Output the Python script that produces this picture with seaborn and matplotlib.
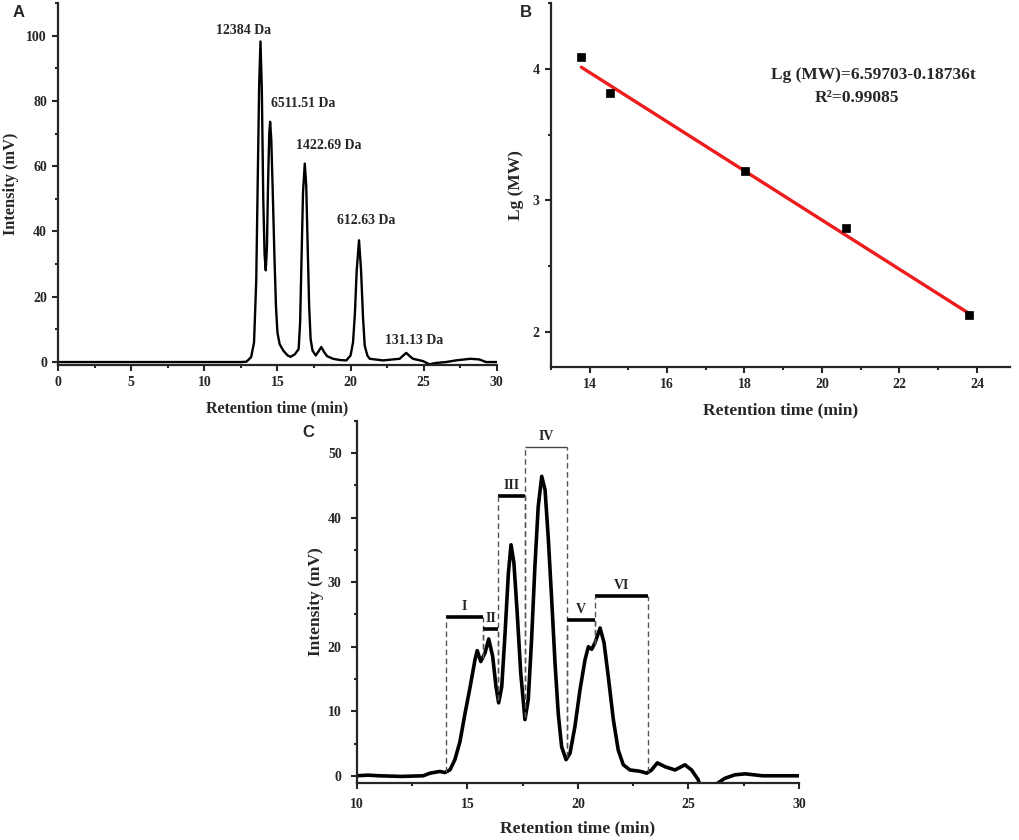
import numpy as np
import pandas as pd
import seaborn as sns
import matplotlib.pyplot as plt
from matplotlib.ticker import MultipleLocator, AutoMinorLocator

sns.set_style("ticks")
plt.rcParams['font.family'] = ['Liberation Serif', 'DejaVu Serif']
plt.rcParams['font.weight'] = 'bold'
plt.rcParams['axes.labelweight'] = 'bold'

# ---- Panel A: chromatogram of standards ----
a_time = [0, 5, 10, 12.5, 12.88, 13.2, 13.4, 13.55, 13.65, 13.75, 13.84, 13.93, 14.03, 14.12,
          14.2, 14.28, 14.36, 14.44, 14.5, 14.58, 14.68, 14.79, 14.9, 15.0, 15.15, 15.4,
          15.7, 15.9, 16.2, 16.45, 16.55, 16.65, 16.75, 16.87, 16.97, 17.07, 17.17, 17.27,
          17.4, 17.62, 17.8, 18.0, 18.2, 18.4, 18.8, 19.3, 19.71, 20.0, 20.17, 20.3,
          20.42, 20.58, 20.72, 20.85, 20.97, 21.15, 21.31, 22.22, 23.36, 23.6, 23.81, 24.05,
          24.27, 24.95, 25.4, 25.8, 26.54, 27.2, 28.2, 28.8, 29.27, 30]
a_signal = [0, 0, 0, 0, 0.1, 1.5, 6, 25, 55, 85, 98.2, 84, 50, 33,
            28.1, 35, 55, 70, 73.6, 68, 52, 33, 17, 9, 5.5, 3.5,
            2.0, 1.6, 2.4, 4, 12, 32, 52, 60.8, 54, 35, 17, 7,
            3.5, 2, 3.2, 4.6, 3, 1.8, 1, 0.6, 0.5, 2, 6, 15,
            28, 37.3, 28, 14, 5, 2, 1, 0.5, 1, 2, 2.8, 1.8,
            1, 0.3, -0.7, -0.3, 0, 0.5, 1.0, 0.8, 0, 0]
a_labels = ['12384 Da', '6511.51 Da', '1422.69 Da', '612.63 Da', '131.13 Da']
a_label_x = [12.66, 16.75, 18.53, 21.08, 24.33]
a_label_y = [101.7, 79.2, 66.3, 43.3, 6.6]

# ---- Panel B: calibration ----
b_time = [13.79, 14.52, 18.01, 20.62, 23.80]
b_lgmw = [4.093, 3.815, 3.223, 2.787, 2.125]
fit_intercept = 6.59703
fit_slope = -0.18736

# ---- Panel C: sample chromatogram ----
c_time = [10, 10.5, 11, 12, 13, 13.3, 13.75, 13.98, 14.21, 14.43, 14.66, 14.89, 15.11, 15.34,
          15.44, 15.6, 15.79, 15.96, 16.14, 16.29, 16.41, 16.55, 16.70, 16.85, 16.97, 17.10,
          17.25, 17.41, 17.60, 17.75, 17.90, 18.05, 18.20, 18.36, 18.51, 18.66, 18.81, 18.96,
          19.11, 19.26, 19.46, 19.64, 19.86, 20.09, 20.32, 20.47, 20.62, 20.77, 21.0, 21.18,
          21.37, 21.60, 21.82, 22.05, 22.35, 22.81, 23.11, 23.33, 23.59, 23.94, 24.39, 24.84,
          25.14, 25.44, 25.6, 26.2, 26.3, 26.64, 27.1, 27.57, 28.35, 30]
c_signal = [0, 0.1, 0, -0.1, 0, 0.4, 0.67, 0.5, 0.93, 2.5, 5.3, 9.7, 13.6, 18.0,
            19.4, 17.7, 19.0, 21.2, 18.5, 13.8, 11.3, 13.8, 22.1, 31.4, 35.8, 33.0,
            25.2, 15.9, 8.7, 11.8, 21.1, 32.4, 41.7, 46.4, 44.3, 36.6, 27.3, 17.5,
            9.5, 4.5, 2.5, 3.5, 7.6, 13.3, 18.0, 20.0, 19.6, 20.6, 22.9, 20.6,
            15.4, 8.7, 4.0, 1.7, 0.9, 0.7, 0.4, 0.9, 2.0, 1.4, 0.9, 1.7,
            0.9, -0.6, -2.5, -2.5, -1.2, -0.4, 0.15, 0.3, 0, 0]
frac_labels = ['I', 'II', 'III', 'IV', 'V', 'VI']
frac_start = [14.03, 15.69, 16.39, 17.59, 19.52, 20.75]
frac_end = [15.69, 16.39, 17.59, 19.52, 20.75, 23.18]
frac_level = [24.6, 22.7, 43.3, 50.9, 24.1, 27.8]

df_a = pd.DataFrame({'t': a_time, 'mV': a_signal})
df_b = pd.DataFrame({'t': b_time, 'lg': b_lgmw})
df_c = pd.DataFrame({'t': c_time, 'mV': c_signal})

fig = plt.figure(figsize=(10.2, 8.4), dpi=100)
ax_a = fig.add_axes([0.057, 0.5655, 0.430, 0.431])
ax_b = fig.add_axes([0.540, 0.563, 0.450, 0.433])
ax_c = fig.add_axes([0.350, 0.068, 0.4333, 0.431])


def style_axis(ax, pad=4):
    sns.despine(ax=ax)
    for s in ['left', 'bottom']:
        ax.spines[s].set_linewidth(1.6)
    ax.tick_params(which='major', direction='out', length=4, width=1.5, labelsize=10, pad=pad)
    ax.tick_params(which='minor', direction='out', length=2.5, width=1.5)
    ax.xaxis.set_minor_locator(AutoMinorLocator(2))
    ax.yaxis.set_minor_locator(AutoMinorLocator(2))


# A
sns.lineplot(data=df_a, x='t', y='mV', ax=ax_a, color='black', lw=1.7, solid_joinstyle='round')
ax_a.set_xlim(0, 30)
ax_a.set_ylim(-0.9, 110)
ax_a.xaxis.set_major_locator(MultipleLocator(5))
ax_a.yaxis.set_major_locator(MultipleLocator(20))
for txt, x, y in zip(a_labels, a_label_x, a_label_y):
    ax_a.text(x, y, txt, ha='center', va='center', fontsize=10, fontweight='bold')
ax_a.set_xlabel('Retention time (min)', fontsize=11.5, labelpad=8)
ax_a.set_ylabel('Intensity (mV)', fontsize=11.8, labelpad=5)
style_axis(ax_a)

# B
line_x = np.array([min(b_time), max(b_time)])
df_fit = pd.DataFrame({'t': line_x, 'lg': fit_intercept + fit_slope * line_x})
sns.lineplot(data=df_fit, x='t', y='lg', ax=ax_b, color='#ee1c1c', lw=2.4)
sns.scatterplot(data=df_b, x='t', y='lg', ax=ax_b, marker='s', color='black', s=40,
                edgecolor='black', zorder=3)
ax_b.set_xlim(13, 24.85)
ax_b.set_ylim(1.73, 4.5)
ax_b.xaxis.set_major_locator(MultipleLocator(2))
ax_b.yaxis.set_major_locator(MultipleLocator(1))
ax_b.text(21.32, 3.955, 'Lg (MW)=6.59703-0.18736t', ha='center', va='center', fontsize=12.5,
          fontweight='bold')
ax_b.text(20.9, 3.78, 'R\u00b2=0.99085', ha='center', va='center', fontsize=12.5,
          fontweight='bold')
ax_b.set_xlabel('Retention time (min)', fontsize=12.5, labelpad=8)
ax_b.set_ylabel('Lg (MW)', fontsize=12.5, labelpad=6)
style_axis(ax_b)

# C
sns.lineplot(data=df_c, x='t', y='mV', ax=ax_c, color='black', lw=2.6, solid_joinstyle='round')
for lab, x0, x1, lev in zip(frac_labels, frac_start, frac_end, frac_level):
    thin = lab == 'IV'
    ax_c.hlines(lev, x0, x1, color='#444444' if thin else 'black', lw=1.0 if thin else 2.6)
    for xe in (x0, x1):
        bottom = np.interp(xe, c_time, c_signal)
        ax_c.vlines(xe, bottom, lev, color='#555555', lw=1.0, linestyles=(0, (4, 2.5)))
    ax_c.text((x0 + x1) / 2, lev + 0.7, lab, ha='center', va='bottom', fontsize=10,
              fontweight='bold')
ax_c.set_xlim(10, 30)
ax_c.set_ylim(-1.1, 55)
ax_c.xaxis.set_major_locator(MultipleLocator(5))
ax_c.yaxis.set_major_locator(MultipleLocator(10))
ax_c.set_xlabel('Retention time (min)', fontsize=12.5, labelpad=7)
ax_c.set_ylabel('Intensity (mV)', fontsize=12.5, labelpad=3)
style_axis(ax_c, pad=7)

for lab, x, y in [('A', 0.012, 0.985), ('B', 0.510, 0.985), ('C', 0.296, 0.485)]:
    fig.text(x, y, lab, ha='left', va='center', fontsize=12, fontweight='bold',
             family=['Liberation Sans', 'DejaVu Sans'])

fig.savefig('out.png', dpi=100)
